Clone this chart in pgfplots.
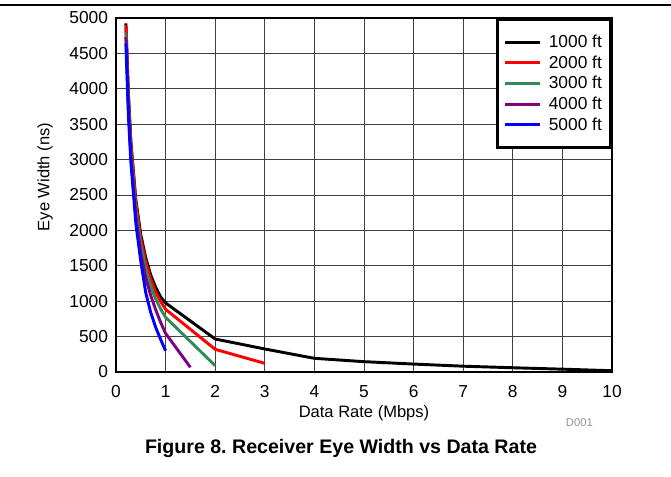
\documentclass[border=0pt]{standalone}
\usepackage{fontspec}
\setmainfont{Liberation Sans}
\usepackage{pgfplots}
\pgfplotsset{compat=1.18}
\definecolor{sgreen}{RGB}{46,139,87}
\definecolor{dpurple}{RGB}{128,0,128}
\definecolor{dgray}{RGB}{150,150,150}
\begin{document}
\begin{tikzpicture}[x=1pt,y=1pt]
\path[use as bounding box] (0,0) rectangle (503.25,357.75);
\draw[line width=0.8pt] (0,354) -- (503.25,354);
\begin{axis}[
  at={(87pt,78.75pt)}, anchor=south west,
  scale only axis, width=372pt, height=265.5pt,
  xmin=0, xmax=10, ymin=0, ymax=5000,
  xtick={0,1,...,10}, ytick={0,500,...,5000},
  grid=major,
  major grid style={line width=0.6pt, black!75},
  major tick length=0pt,
  axis line style={line width=2.2pt},
  /pgf/number format/assume math mode=true,
  /pgf/number format/set thousands separator={},
  tick label style={font=\fontsize{13}{15}\selectfont},
  yticklabel style={xshift=-2.5pt},
  xticklabel style={yshift=-6.5pt},
  xlabel={Data Rate (Mbps)}, ylabel={Eye Width (ns)},
  label style={font=\fontsize{12.4}{15}\selectfont},
  xlabel style={at={(axis description cs:0.5,-0.116)}, anchor=center},
  ylabel style={at={(axis description cs:-0.143,0.551)}, anchor=center},
  legend image code/.code={\draw[#1, line width=2.2pt] (0pt,0pt) -- (26pt,0pt);},
  legend style={at={(1,1)}, anchor=north east, draw=black, line width=2.2pt,
    font=\fontsize{13}{15}\selectfont, legend cell align=left,
    inner xsep=4.5pt, inner ysep=9.5pt, row sep=0.6pt, column sep=3.5pt,
    nodes={inner sep=2pt}},
  every axis plot/.append style={line width=2.2pt},
]
\addplot[black] coordinates {(0.2,4925) (0.25,3930) (0.3,3260) (0.4,2430) (0.5,1940) (0.6,1610) (0.7,1370) (0.8,1195) (0.9,1060) (1,975) (2,466) (3,325) (4,193) (5,146) (6,112) (7,82) (8,60) (9,40) (10,18)};
\addplot[red] coordinates {(0.2,4900) (0.25,3890) (0.3,3220) (0.4,2390) (0.5,1880) (0.6,1550) (0.7,1310) (0.8,1130) (0.9,995) (1,885) (2,320) (3,122)};
\addplot[sgreen] coordinates {(0.2,4788) (0.25,3790) (0.3,3130) (0.4,2290) (0.5,1790) (0.6,1450) (0.7,1210) (0.8,1030) (0.9,890) (1,772) (2,89)};
\addplot[dpurple] coordinates {(0.2,4730) (0.25,3740) (0.3,3060) (0.4,2200) (0.5,1680) (0.6,1330) (0.7,1080) (0.8,880) (0.9,700) (1,545) (1.5,66)};
\addplot[blue] coordinates {(0.2,4640) (0.25,3620) (0.3,2960) (0.4,2100) (0.5,1560) (0.6,1120) (0.7,840) (0.8,630) (0.9,460) (1,300)};
\legend{1000 ft, 2000 ft, 3000 ft, 4000 ft, 5000 ft}
\end{axis}
\node[text=dgray, font=\fontsize{8.5}{10}\selectfont] at (434.6,40.5) {D001};
\node[font=\bfseries\fontsize{14.7}{17}\selectfont] at (255.75,21.75) {\frenchspacing Figure 8. Receiver Eye Width vs Data Rate};
\end{tikzpicture}
\end{document}
